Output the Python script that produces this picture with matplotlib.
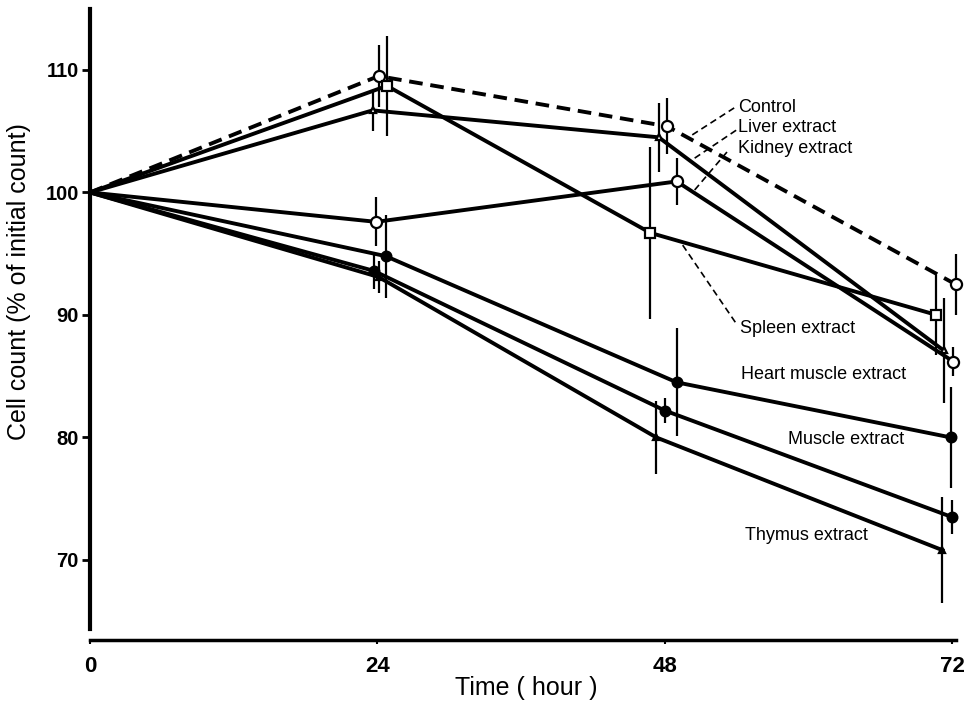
import matplotlib
matplotlib.use('Agg')
from matplotlib import pyplot as plt
import numpy as np

plt.rcParams['font.family'] = ['Liberation Sans', 'DejaVu Sans']

hours = [0, 24, 48, 72]

control = [100, 109.5, 105.4, 92.5]
liver = [100, 106.7, 104.5, 87.1]
kidney = [100, 97.6, 100.9, 86.2]
spleen = [100, 108.7, 96.7, 90.0]
heart = [100, 94.8, 84.5, 80.0]
muscle = [100, 93.6, 82.2, 73.5]
thymus = [100, 93.1, 80.0, 70.8]

control_err = [0, 2.5, 2.3, 2.5]
liver_err = [0, 1.7, 2.8, 4.3]
kidney_err = [0, 2.0, 1.9, 1.2]
spleen_err = [0, 4.1, 7.0, 3.3]
heart_err = [0, 3.4, 4.4, 4.1]
muscle_err = [0, 1.5, 1.0, 1.4]
thymus_err = [0, 1.3, 3.0, 4.3]

# small horizontal shifts so the bars do not sit on top of each other
shift_control = [0, 0.1, 0.2, 0.3]
shift_liver = [0, -0.4, -0.5, -0.7]
shift_kidney = [0, -0.1, 1.0, 0.1]
shift_spleen = [0, 0.8, -1.2, -1.3]
shift_heart = [0, 0.7, 1.0, -0.1]
shift_muscle = [0, -0.3, 0.0, 0.0]
shift_thymus = [0, 0.1, -0.7, -0.8]

fig = plt.figure(figsize=(9.65, 7.01), dpi=100)
ax = fig.add_axes([0.0933, 0.0876, 0.9057, 0.90])

series = [
    (control, control_err, shift_control, '--', 'o', 'white', 8),
    (spleen, spleen_err, shift_spleen, '-', 's', 'white', 7),
    (liver, liver_err, shift_liver, '-', '^', 'white', 5),
    (kidney, kidney_err, shift_kidney, '-', 'o', 'white', 8),
    (heart, heart_err, shift_heart, '-', 'o', 'black', 7),
    (muscle, muscle_err, shift_muscle, '-', 'o', 'black', 7),
    (thymus, thymus_err, shift_thymus, '-', '^', 'black', 5),
]

for vals, err, shift, ls, mk, fc, ms in series:
    x = np.array(hours) + np.array(shift)
    ax.errorbar(x[1:], vals[1:], yerr=err[1:], fmt='none', ecolor='black',
                elinewidth=1.6, capsize=0, zorder=2)
    line, = ax.plot(x, vals, color='black', lw=2.8, linestyle=ls,
                    marker=mk, markersize=ms, markerfacecolor=fc,
                    markeredgecolor='black', markeredgewidth=1.6,
                    markevery=[1, 2, 3], zorder=3)
    if ls == '--':
        line.set_dashes([3.5, 2])

# labels with dashed leaders
labels = [
    ('Control', 54.1, 106.9, (50.3, 104.7), (53.8, 106.9)),
    ('Liver extract', 54.1, 105.3, (50.5, 102.8), (54.0, 105.1)),
    ('Kidney extract', 54.1, 103.6, (50.5, 100.2), (53.2, 103.3)),
    ('Spleen extract', 54.3, 88.9, (49.5, 95.7), (53.9, 89.4)),
]
for txt, tx, ty, p0, p1 in labels:
    ax.text(tx, ty, txt, fontsize=13, va='center', ha='left')
    ax.plot([p0[0], p1[0]], [p0[1], p1[1]], color='black', lw=1.2,
            linestyle=(0, (4, 2.5)), zorder=1)

ax.text(54.4, 85.1, 'Heart muscle extract', fontsize=13, va='center')
ax.text(58.3, 79.8, 'Muscle extract', fontsize=13, va='center')
ax.text(54.7, 72.0, 'Thymus extract', fontsize=13, va='center')

ax.set_xlim(0, 73)
ax.set_ylim(63.5, 115)

ax.spines['top'].set_visible(False)
ax.spines['right'].set_visible(False)
ax.spines['left'].set_linewidth(3)
ax.spines['bottom'].set_linewidth(2.5)
ax.spines['left'].set_bounds(64.4, 115)
ax.spines['bottom'].set_bounds(0, 72.3)

ax.set_xticks(hours)
ax.set_yticks([70, 80, 90, 100, 110])
ax.tick_params(axis='y', direction='out', length=6, width=2, pad=2,
               labelsize=14.5)
ax.tick_params(axis='x', direction='out', length=3, width=1.5, pad=9,
               labelsize=16)
for lab in ax.get_xticklabels() + ax.get_yticklabels():
    lab.set_fontweight('bold')

ax.set_xlabel('Time ( hour )', fontsize=18)
ax.set_ylabel('Cell count (% of initial count)', fontsize=18)
ax.xaxis.set_label_coords(0.499, -0.076)
ax.yaxis.set_label_coords(-0.081, 0.567)
ax.xaxis.label.set_verticalalignment('center')
ax.yaxis.label.set_verticalalignment('center')

fig.savefig('out.png', dpi=100)
